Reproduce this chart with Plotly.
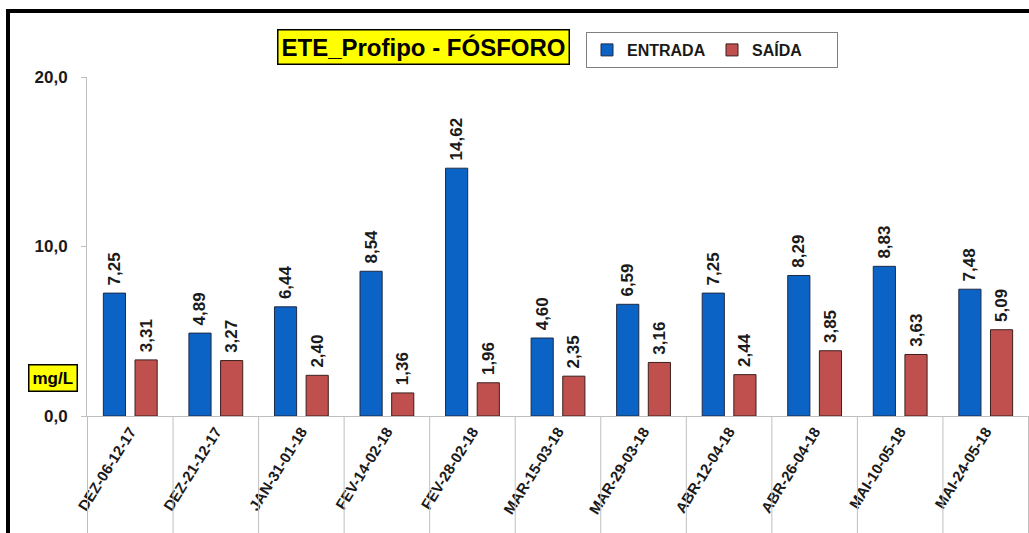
import plotly.graph_objects as go

categories = ["DEZ-06-12-17", "DEZ-21-12-17", "JAN-31-01-18", "FEV-14-02-18", "FEV-28-02-18",
              "MAR-15-03-18", "MAR-29-03-18", "ABR-12-04-18", "ABR-26-04-18", "MAI-10-05-18",
              "MAI-24-05-18"]
entrada = [7.25, 4.89, 6.44, 8.54, 14.62, 4.60, 6.59, 7.25, 8.29, 8.83, 7.48]
saida = [3.31, 3.27, 2.40, 1.36, 1.96, 2.35, 3.16, 2.44, 3.85, 3.63, 5.09]
y_ticks = [0, 10, 20]

W, H = 1029, 533
ML, MR, MT, MB = 87, 0, 77, 117
PW, PH = W - ML - MR, H - MT - MB


def px(x):
    return (x - ML) / PW


def py(y):
    return (H - MB - y) / PH


FONT = "Liberation Sans, Arial, sans-serif"
TXT = "#1a1a1a"
NB = "\u00a0"

fig = go.Figure()
fig.add_trace(go.Bar(
    name="ENTRADA", x=categories, y=entrada,
    marker=dict(color="#0B63C5", line=dict(color="#1f2a44", width=1)),
    texttemplate=NB + "%{y:.2f}", textposition="outside", textangle=-90,
    constraintext="none", cliponaxis=False,
    textfont=dict(family=FONT, size=17, color=TXT, weight="bold"),
))
fig.add_trace(go.Bar(
    name="SAÍDA", x=categories, y=saida,
    marker=dict(color="#C0504D", line=dict(color="#3a1f1e", width=1)),
    texttemplate=NB + "%{y:.2f}", textposition="outside", textangle=-90,
    constraintext="none", cliponaxis=False,
    textfont=dict(family=FONT, size=17, color=TXT, weight="bold"),
))

shapes = []
# category boundary lines below the axis
for i in range(len(categories) + 1):
    shapes.append(dict(type="line", xref="x", yref="paper", x0=i - 0.5, x1=i - 0.5,
                       y0=0, y1=py(H), line=dict(color="#BFBFBF", width=1)))
# black frame (left and top)
shapes.append(dict(type="line", xref="paper", yref="paper", x0=px(8), x1=px(8),
                   y0=py(9), y1=py(H), line=dict(color="black", width=4)))
shapes.append(dict(type="line", xref="paper", yref="paper", x0=px(6), x1=px(W),
                   y0=py(11), y1=py(11), line=dict(color="black", width=4)))

annotations = [
    dict(text="<b>ETE_Profipo - FÓSFORO</b>", xref="paper", yref="paper",
         x=px(423), y=py(47), xanchor="center", yanchor="middle", showarrow=False,
         font=dict(family=FONT, size=24, color="black"),
         bgcolor="#FFFF00", bordercolor="black", borderwidth=1.5, borderpad=3),
    dict(text="<b>mg/L</b>", xref="paper", yref="paper",
         x=px(53), y=py(378), xanchor="center", yanchor="middle", showarrow=False,
         font=dict(family=FONT, size=17, color="black"),
         bgcolor="#FFFF00", bordercolor="black", borderwidth=1.5, borderpad=3),
]

fig.update_layout(
    width=W, height=H,
    margin=dict(l=ML, r=MR, t=MT, b=MB),
    paper_bgcolor="white", plot_bgcolor="white",
    separators=",.",
    barmode="group", bargap=0.26, bargroupgap=0.3,
    font=dict(family=FONT, color=TXT),
    shapes=shapes, annotations=annotations,
    showlegend=True,
    legend=dict(orientation="h", x=px(586), y=py(32), xanchor="left", yanchor="top",
                bgcolor="white", bordercolor="#808080", borderwidth=1,
                font=dict(family=FONT, size=16, color=TXT, weight="bold"),
                entrywidth=80, itemwidth=30),
)
fig.update_yaxes(range=[0, 20], tickvals=y_ticks, tickformat=".1f",
                 showline=True, linecolor="#BFBFBF", linewidth=1,
                 ticks="outside", ticklen=5, tickcolor="#BFBFBF",
                 tickfont=dict(family=FONT, size=17, color=TXT, weight="bold"),
                 showgrid=False, zeroline=False, ticklabelstandoff=10)
fig.update_xaxes(showline=True, linecolor="#BFBFBF", linewidth=1, ticks="",
                 tickangle=-58, showgrid=False,
                 tickfont=dict(family=FONT, size=15, color=TXT, weight="bold"))

fig.write_html("out.html", config={"displayModeBar": False},
               post_script="document.body.style.margin='0';document.body.style.padding='0';")
